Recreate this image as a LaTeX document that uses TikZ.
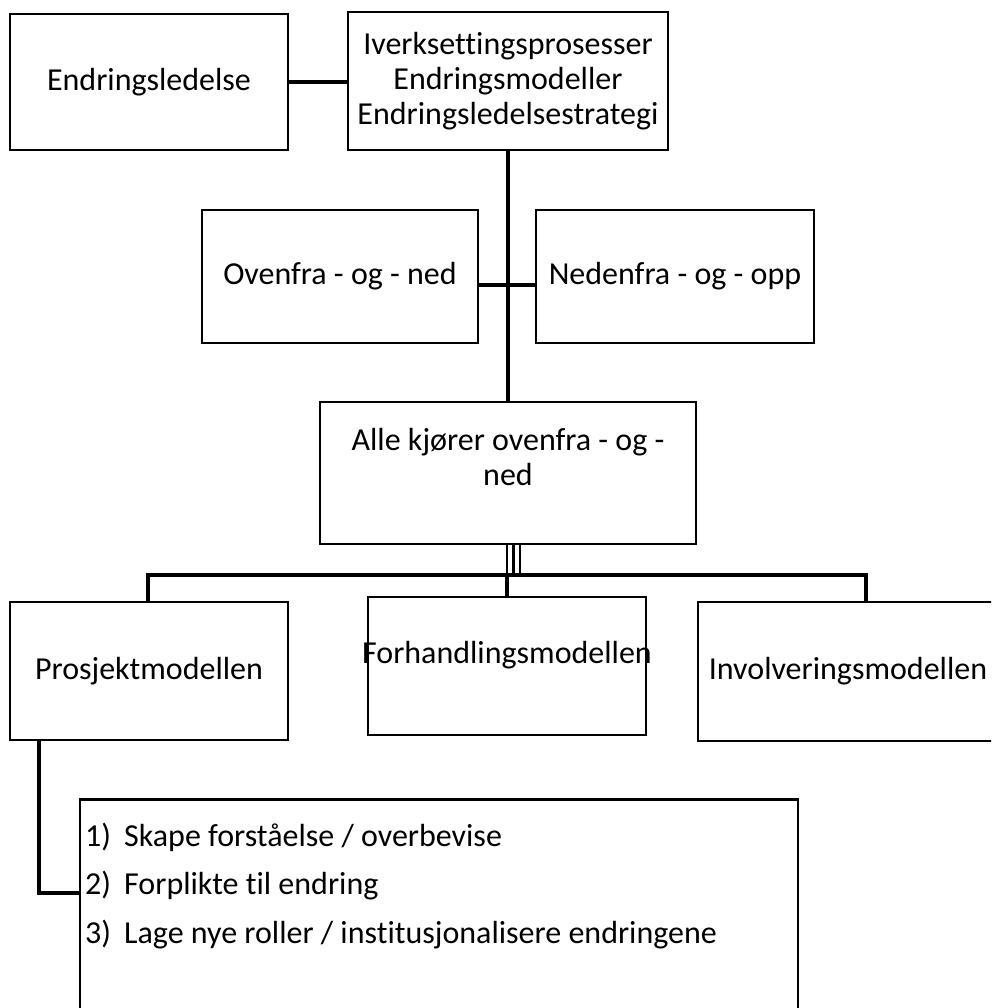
\documentclass[tikz,border=0pt]{standalone}
\usepackage{fontspec}
\setmainfont{Carlito}[Ligatures=NoCommon]
\begin{document}
\begin{tikzpicture}[x=1pt,y=-1pt,
  box/.style={draw=black,line width=2.4pt,rectangle,inner sep=0pt,align=center,
    font=\fontsize{32}{35}\selectfont},
  conn/.style={draw=black,line width=4pt},
  thinline/.style={draw=black,line width=2.6pt},
  lbl/.style={inner sep=0pt,align=center,font=\fontsize{32}{35}\selectfont},
  item/.style={inner sep=0pt,anchor=base west,font=\fontsize{32}{35}\selectfont}]
\useasboundingbox (0,0) rectangle (991,1008);
\clip (0,0) rectangle (991,1008);

% top row
\node[box,minimum width=278pt,minimum height=136pt] (el) at (149,82) {Endringsledelse};
\node[box,minimum width=320pt,minimum height=138pt] (iv) at (508,81)
  {Iverksettingsprosesser\\Endringsmodeller\\Endringsledelsestrategi};

% middle row
\node[box,minimum width=276pt,minimum height=133pt] (ov) at (340,276.5) {Ovenfra - og - ned};
\node[box,minimum width=278pt,minimum height=133pt] (ne) at (675,276.5) {Nedenfra - og - opp};

% joint box
\node[box,minimum width=376pt,minimum height=142pt] (al) at (508,473) {};
\node[lbl] (altxt) at (508,457) {Alle kjører ovenfra - og -\\ned};

% three models
\node[box,minimum width=278pt,minimum height=138pt] (pm) at (149,671) {Prosjektmodellen};
\node[box,minimum width=278pt,minimum height=138pt] (fm) at (507,666) {};
\node[lbl] (fmtxt) at (507,655) {Forhandlingsmodellen};
\node[box,minimum width=300pt,minimum height=139pt] (im) at (848,671.5) {Involveringsmodellen};

% phase list
\node[box,minimum width=718pt,minimum height=215pt] (ls) at (439,907) {};
\node[item] (li1) at (85,846) {\makebox[39pt][l]{1)}Skape forståelse / overbevise};
\node[item] (li2) at (85,894.5) {\makebox[39pt][l]{2)}Forplikte til endring};
\node[item] (li3) at (85,943) {\makebox[39pt][l]{3)}Lage nye roller / institusjonalisere endringene};

% connectors
\draw[conn] (el.east) -- (el.east -| iv.west);
\draw[conn] (iv.south) -- (al.north);
\draw[conn] ([yshift=-8pt]ov.east) -- ([yshift=-8pt]ne.west);

\foreach \dx in {-1,5.5,12}
  \draw[thinline] ([xshift=\dx pt]al.south) -- ++(0,31);

\coordinate (busL) at (148,575);
\coordinate (busR) at (866,575);
\draw[conn] (pm.north -| busL) -- (busL) -- (busR) -- (busR |- im.north);
\draw[conn] (fm.north) -- (fm.north |- busL);

\draw[conn] ([xshift=-110.5pt]pm.south) |- ([yshift=14pt]ls.west);
\end{tikzpicture}
\end{document}
